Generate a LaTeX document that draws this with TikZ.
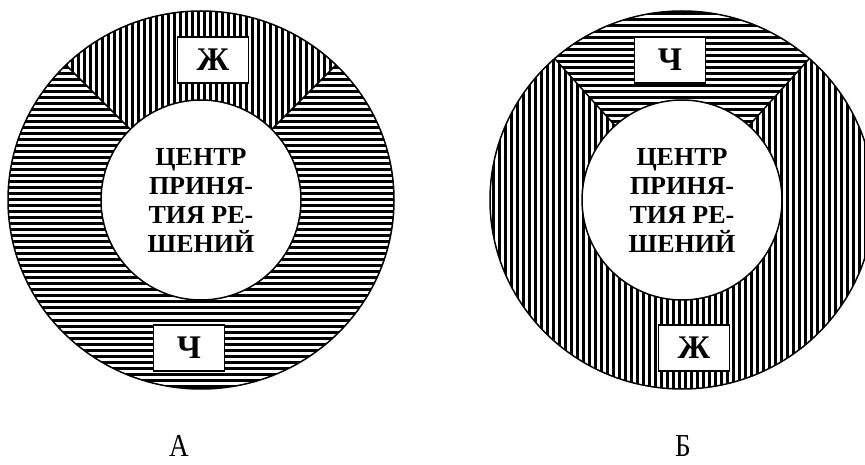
\documentclass[tikz,border=0pt]{standalone}
\usepackage{fontspec}
\setmainfont{Liberation Serif}
\usetikzlibrary{positioning, calc}

\tikzset{
  hatch/.style={line width=3pt, black},
  rim/.style={line width=1.5pt, black},
  letterbox/.style={draw, line width=1.5pt, fill=white, minimum width=71pt, minimum height=46pt, inner sep=0pt, font=\fontsize{33}{33}\selectfont\bfseries},
  core/.style={circle, draw, line width=1.5pt, fill=white, minimum size=200pt, inner sep=0pt, align=center, font=\fontsize{26}{29}\selectfont\bfseries},
  caption/.style={anchor=base, inner sep=0pt, xscale=0.85, font=\fontsize{32}{32}\selectfont}
}

\begin{document}
\begin{tikzpicture}[x=1pt, y=1pt]
  \useasboundingbox (0,0) rectangle (865,464);

  % Ring A - horizontal hatch, vertical hatch on top sector
  \begin{scope}[shift={(201,264)}]
    \begin{scope}
      \clip (0,0) ellipse [x radius=193, y radius=189];
      \foreach \y in {-192,-186,...,192}
        \draw[hatch] (-200,\y) -- (200,\y);
      \clip (0,0) -- (45:300) -- (0,300) -- (135:300) -- cycle;
      \fill[white] (-200,0) rectangle (200,200);
      \foreach \x in {-195,-189,...,195}
        \draw[hatch] (\x,0) -- (\x,200);
    \end{scope}
    \coordinate (aInL) at (135:100);
    \coordinate (aOutL) at (135:191);
    \coordinate (aInR) at (45:100);
    \coordinate (aOutR) at (45:191);
    \draw[rim] (aInL) -- (aOutL);
    \draw[rim] (aInR) -- (aOutR);
    \draw[rim] (0,0) ellipse [x radius=193, y radius=189];
    \node[core] (coreA) at (0,0) {ЦЕНТР\\ПРИНЯ-\\ТИЯ РЕ-\\ШЕНИЙ};
    \node[letterbox] (zhA) at (12,140) {Ж};
    \node[letterbox] (chA) at (-12,-148) {Ч};
  \end{scope}

  % Ring B - vertical hatch, horizontal hatch on top sector
  \begin{scope}[shift={(682,264)}]
    \begin{scope}
      \clip (0,0) ellipse [x radius=192, y radius=189];
      \foreach \x in {-195,-189,...,195}
        \draw[hatch] (\x,-200) -- (\x,200);
      \clip (0,0) -- (48:300) -- (0,300) -- (132:300) -- cycle;
      \fill[white] (-200,0) rectangle (200,200);
      \foreach \y in {0,6,...,198}
        \draw[hatch] (-200,\y) -- (200,\y);
    \end{scope}
    \coordinate (bInL) at (132:100);
    \coordinate (bOutL) at (132:190);
    \coordinate (bInR) at (48:100);
    \coordinate (bOutR) at (48:190);
    \draw[rim] (bInL) -- (bOutL);
    \draw[rim] (bInR) -- (bOutR);
    \draw[rim] (0,0) ellipse [x radius=192, y radius=189];
    \node[core] (coreB) at (0,0) {ЦЕНТР\\ПРИНЯ-\\ТИЯ РЕ-\\ШЕНИЙ};
    \node[letterbox] (chB) at (-12,140) {Ч};
    \node[letterbox] (zhB) at (12,-148) {Ж};
  \end{scope}

  % captions
  \node[caption] (capA) at (179,8) {А};
  \node[caption] (capB) at (683,8) {Б};
\end{tikzpicture}
\end{document}
